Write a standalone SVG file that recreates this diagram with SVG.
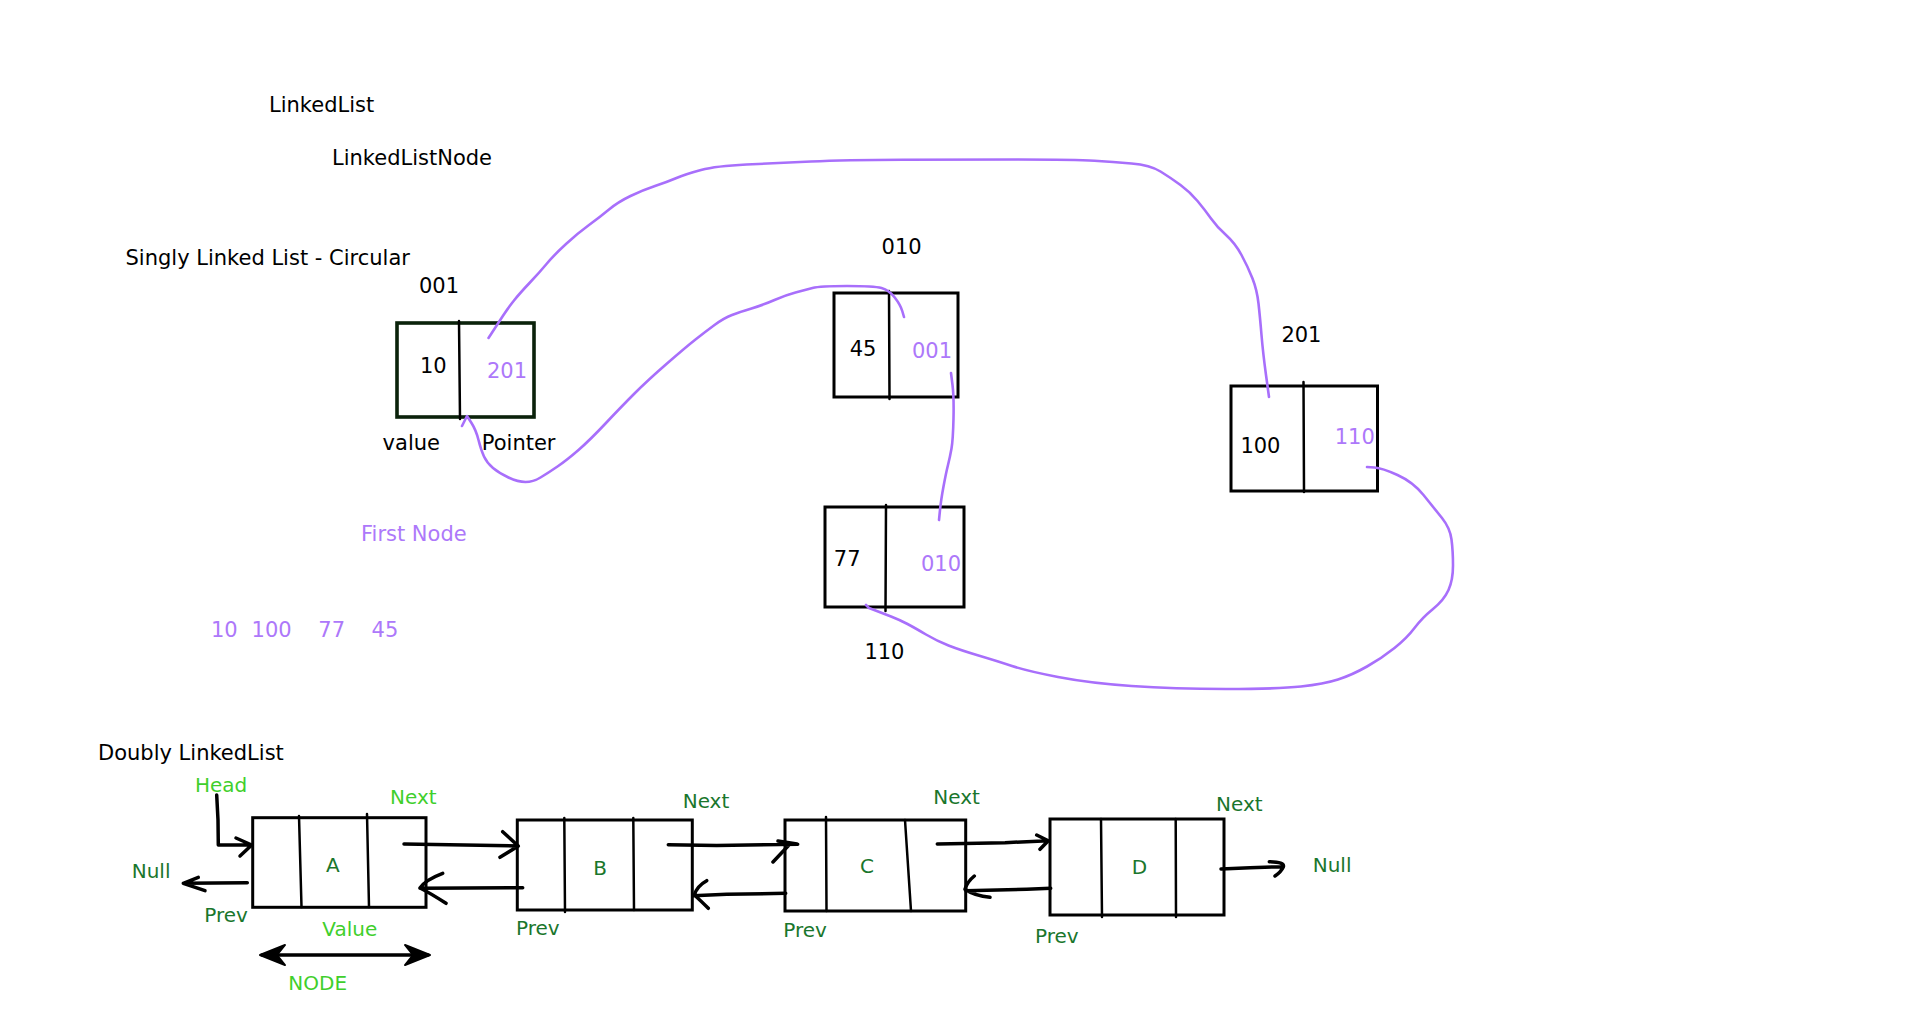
<svg xmlns="http://www.w3.org/2000/svg" width="1920" height="1017" viewBox="0 0 1920 1017">
<style>
text{font-family:"DejaVu Sans","Liberation Sans",sans-serif}
.t{font-size:21px;fill:#000}
.p{font-size:21px;fill:#ad78fa}
.g{font-size:20px;fill:#1a762c}
.lg{font-size:20px;fill:#3fcf2c}
.box{fill:none;stroke:#000;stroke-width:3}
.dv{fill:none;stroke:#000;stroke-width:2.5;stroke-linecap:round}
.pl{fill:none;stroke:#a86ffb;stroke-width:2.6;stroke-linecap:round;stroke-linejoin:round}
.ar{fill:none;stroke:#000;stroke-width:3.5;stroke-linecap:round;stroke-linejoin:round}
.ah{fill:#000;stroke:#000;stroke-width:2;stroke-linejoin:round}
</style>
<rect width="1920" height="1017" fill="#fff"/>

<g id="titles">
<text class="t" x="269" y="112">LinkedList</text>
<text class="t" x="332" y="165">LinkedListNode</text>
<text class="t" x="125.5" y="265">Singly Linked List - Circular</text>
<text class="t" x="98" y="760">Doubly LinkedList</text>
<text class="p" x="361" y="541">First Node</text>
<text class="p" x="211" y="637">10</text>
<text class="p" x="251.6" y="637">100</text>
<text class="p" x="318.3" y="637">77</text>
<text class="p" x="371.6" y="637">45</text>
</g>

<g id="node-001">
<text class="t" x="419" y="293">001</text>
<rect x="397" y="323" width="137" height="94" fill="none" stroke="#0b220b" stroke-width="3.6"/>
<line class="dv" x1="459" y1="321" x2="460" y2="419"/>
<text class="t" x="420" y="373">10</text>
<text class="p" x="487" y="378">201</text>
<text class="t" x="382.6" y="450">value</text>
<text class="t" x="481.8" y="450">Pointer</text>
</g>

<g id="node-010">
<text class="t" x="881.6" y="254">010</text>
<rect class="box" x="834" y="293" width="124" height="104"/>
<line class="dv" x1="889" y1="291" x2="889.5" y2="399"/>
<text class="t" x="849.7" y="356">45</text>
<text class="p" x="912" y="358">001</text>
</g>

<g id="node-201">
<text class="t" x="1281.4" y="342">201</text>
<rect class="box" x="1231" y="386" width="146.5" height="105"/>
<line class="dv" x1="1303.5" y1="382" x2="1304" y2="492"/>
<text class="t" x="1240.4" y="453">100</text>
<text class="p" x="1334.7" y="444">110</text>
</g>

<g id="node-110">
<rect class="box" x="825" y="507" width="139" height="100"/>
<line class="dv" x1="886" y1="505" x2="885.5" y2="611"/>
<text class="t" x="833.8" y="566">77</text>
<text class="p" x="921" y="571">010</text>
<text class="t" x="864.4" y="659">110</text>
</g>

<g id="node-A">
<rect class="box" x="252.7" y="817.7" width="173.3" height="89.6"/>
<line class="dv" x1="299" y1="816" x2="301.5" y2="907"/>
<line class="dv" x1="367" y1="814" x2="369" y2="907"/>
<text class="g" x="326" y="871.7">A</text>
<text class="lg" x="195" y="791.7">Head</text>
<text class="lg" x="390" y="804.3">Next</text>
<text class="g" x="131.7" y="878.3">Null</text>
<text class="g" x="204.3" y="921.7">Prev</text>
<text class="lg" x="322.3" y="936">Value</text>
<text class="lg" x="288.3" y="990">NODE</text>
</g>

<g id="node-B">
<rect class="box" x="517.3" y="820" width="175" height="90"/>
<line class="dv" x1="564.3" y1="818" x2="565" y2="912"/>
<line class="dv" x1="633.3" y1="818" x2="634" y2="910"/>
<text class="g" x="593.3" y="875">B</text>
<text class="g" x="682.7" y="807.7">Next</text>
<text class="g" x="516" y="935">Prev</text>
</g>

<g id="node-C">
<rect class="box" x="785" y="820" width="180.7" height="91"/>
<line class="dv" x1="826" y1="817" x2="826.5" y2="911"/>
<line class="dv" x1="905" y1="820" x2="911" y2="911"/>
<text class="g" x="860" y="873.3">C</text>
<text class="g" x="933.3" y="804.3">Next</text>
<text class="g" x="783.3" y="936.7">Prev</text>
</g>

<g id="node-D">
<rect class="box" x="1050" y="819" width="174" height="96"/>
<line class="dv" x1="1101" y1="819" x2="1102" y2="917"/>
<line class="dv" x1="1175.7" y1="819" x2="1176" y2="917"/>
<text class="g" x="1131.7" y="874">D</text>
<text class="g" x="1216" y="810.7">Next</text>
<text class="g" x="1035" y="943.3">Prev</text>
<text class="g" x="1312.7" y="871.7">Null</text>
</g>

<g id="connectors">
<path class="pl" d="M488.5,338 L492.75,331.5 Q497,325 502.5,316.5 Q508,308 514,300.5 Q520,293 529.5,283 Q539,273 546.5,264 Q554,255 566,244 Q578,233 589,225 Q600,217 609,209.5 Q618,202 630.5,196 Q643,190 655,186 Q667,182 676.5,178 Q686,174 701,170 Q716,166 746.5,164.5 Q777,163 811,161.5 Q845,160 902.5,159.75 Q960,159.5 1018,159.5 Q1076,159.5 1094.5,160.75 Q1113,162 1131.5,163.5 Q1150,165 1160.5,171.5 Q1171,178 1180.5,185 Q1190,192 1197.5,201 Q1205,210 1211,218.5 Q1217,227 1226,235 Q1235,243 1241.5,255 Q1248,267 1252.5,278.5 Q1257,290 1258.5,303.5 Q1260,317 1261.5,335 Q1263,353 1266,375 L1269,397"/>
<path class="pl" d="M904,317 L902.25,311 Q900.5,305 894.75,297.5 Q889,290 881.5,288 Q874,286 847,286 Q820,286 812.5,288 Q805,290 795.5,292.5 Q786,295 774.5,300 Q763,305 751.5,308.5 Q740,312 732,315 Q724,318 714.5,325 Q705,332 695.5,339.5 Q686,347 667,363.5 Q648,380 634.5,393.5 Q621,407 605.5,423.5 Q590,440 578.5,450 Q567,460 557.5,466.5 Q548,473 540.5,477.5 Q533,482 525.5,482 Q518,482 508.5,477.5 Q499,473 493,468 Q487,463 484,456.5 Q481,450 478.5,440 Q476,430 471.5,423 L467,416 L462,426"/>
<path class="pl" d="M951,373 L952.5,385 Q954,397 953.5,418.5 Q953,440 951.5,448.5 Q950,457 948,465 Q946,473 943.5,486.5 Q941,500 940,510 L939,520"/>
<path class="pl" d="M1367,467 L1374.5,467.5 Q1382,468 1397.5,475 Q1413,482 1423.5,495 Q1434,508 1442,518 Q1450,528 1451.5,539.5 Q1453,551 1453,565.5 Q1453,580 1448.5,590 Q1444,600 1433,609 Q1422,618 1414.5,628 Q1407,638 1394.5,648 Q1382,658 1367,666.5 Q1352,675 1338,679.5 Q1324,684 1301,686.5 Q1278,689 1226,689 Q1174,689 1131.5,686 Q1089,683 1058,677 Q1027,671 1012,666 Q997,661 978.5,655.5 Q960,650 948.5,645.5 Q937,641 926,634.5 Q915,628 907.5,624 Q900,620 891,616.5 Q882,613 875.5,610.5 L869,608 L866,605"/>

<path class="ar" d="M216.7,795 L218,820 L218.3,845 L251.7,845 M236,838 L251.7,845 L240,856"/>
<path class="ar" d="M404,844 L518,846 M502.7,831.7 L518.3,846 L500,857.3"/>
<path class="ar" d="M522.7,887.7 L420,888.3 M442.7,873.3 Q425,880 420,888 Q430,893 446,903.3"/>
<path class="ar" d="M247.3,882.7 L183.3,883.3 M198.3,877.3 L183.3,883.3 L205,890.7"/>
<path class="ar" d="M262,955 L428,955"/>
<path class="ah" d="M260,955 L285,945 L277,955 L285,965 Z"/>
<path class="ah" d="M430,955 L405,945 L413,955 L405,965 Z"/>
<path class="ar" d="M668.3,844.7 L716.7,845.5 L797.7,844.3 M778,841 L797,844 M789,845 L773,862"/>
<path class="ar" d="M785.7,893.3 L726.7,894.3 L693.3,895.7 M706.7,880.7 Q697,886 694.3,895 Q700,900 708.3,908.3"/>
<path class="ar" d="M937.3,844 L1005,842.7 L1048.3,840.7 M1036.7,835 L1048.3,840.7 L1040,849.3"/>
<path class="ar" d="M1050.7,888.3 L1026.7,889.3 L966,890.7 M974.3,876 Q967,882 965,889.3 Q975,896 990,897.3"/>
<path class="ar" d="M1221,869 L1250,867.7 L1283.3,866.7 M1269.3,861.7 Q1285,862 1283.3,867 Q1281,872 1275,876"/>
</g>
</svg>
